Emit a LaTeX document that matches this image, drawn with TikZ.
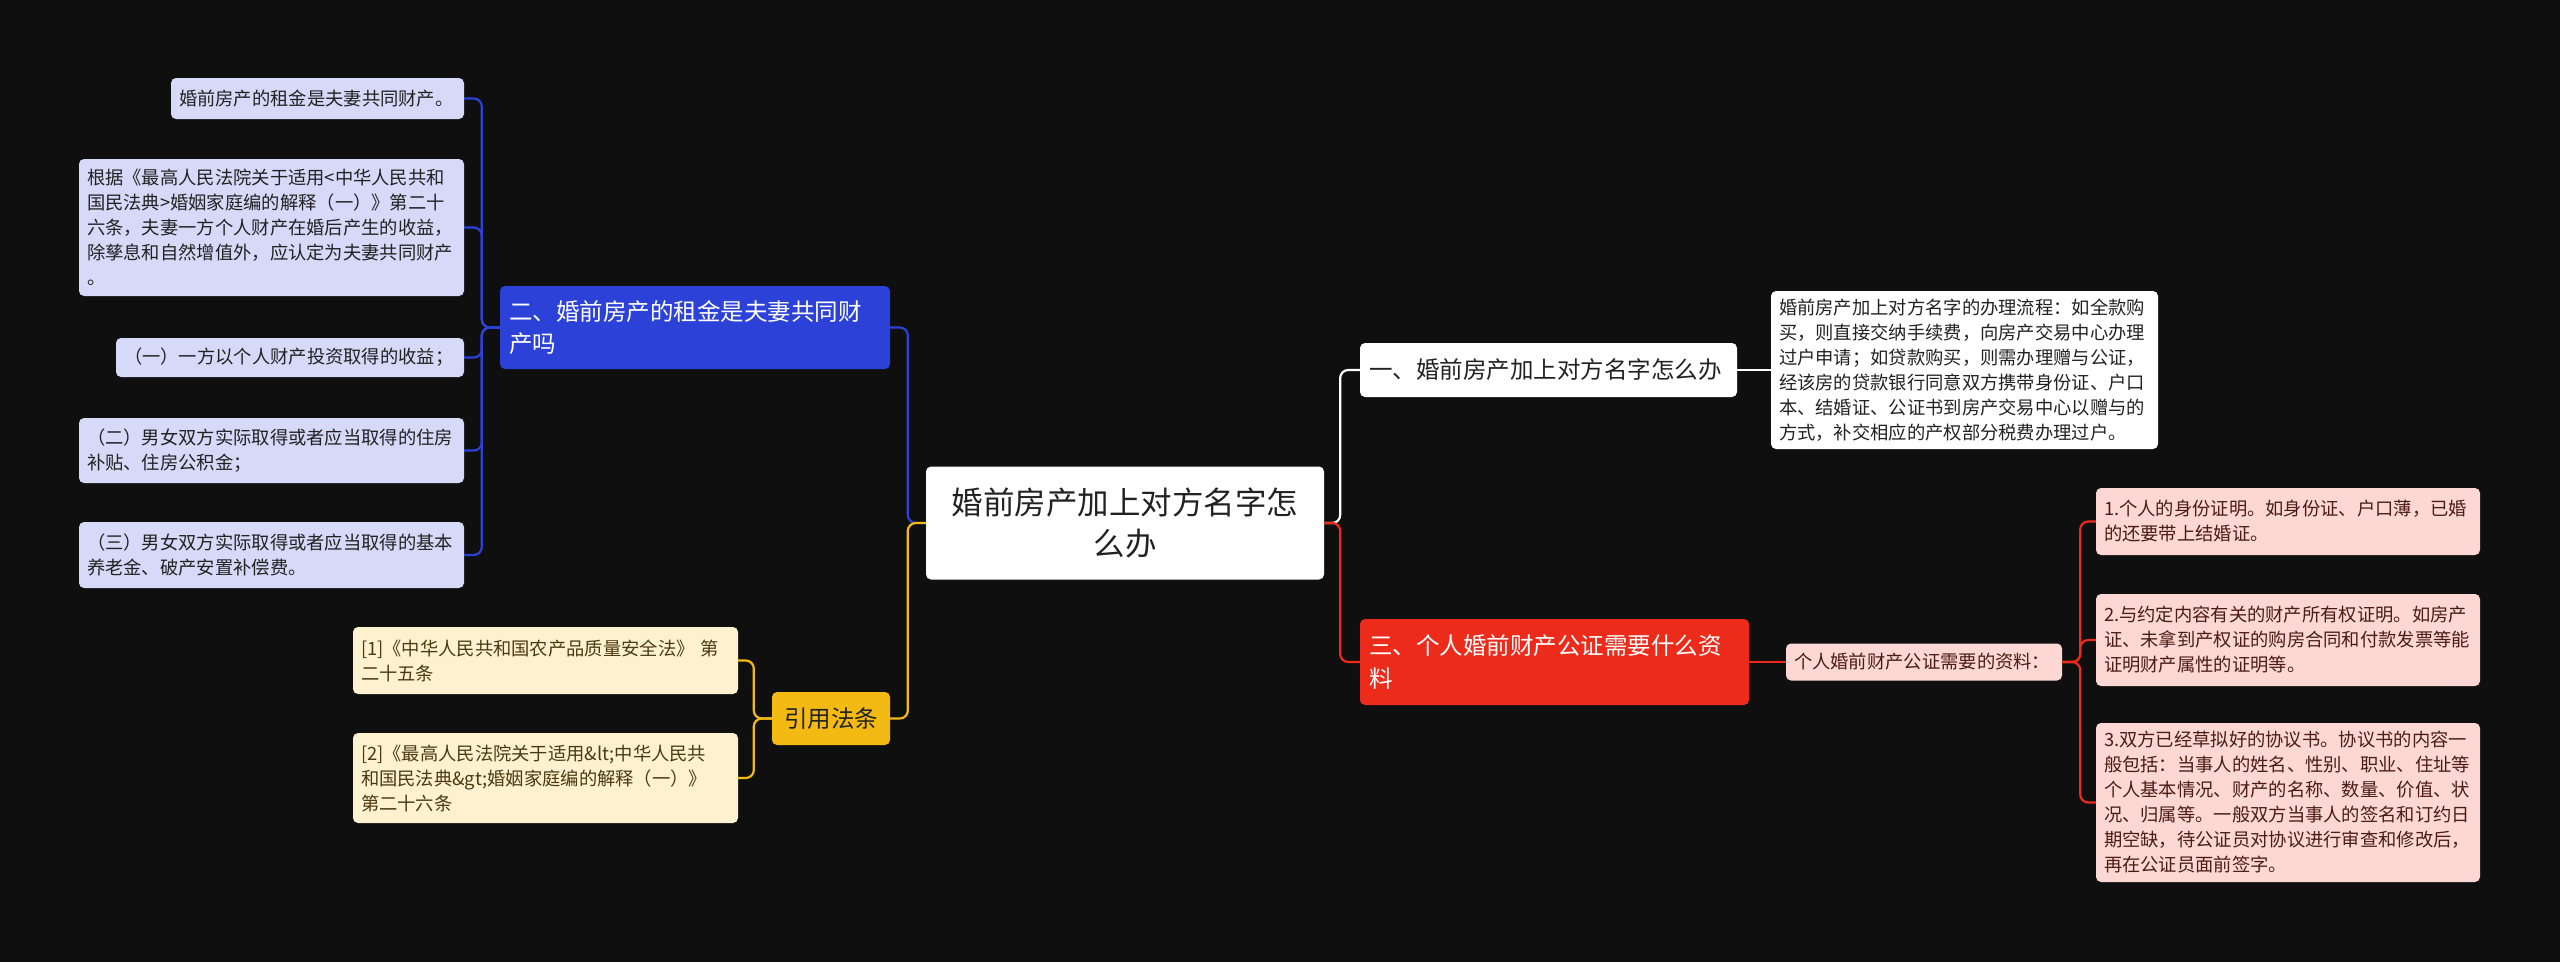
\documentclass[tikz,border=0pt]{standalone}
\usepackage{fontspec}
\setmainfont{Noto Sans CJK SC}
\usetikzlibrary{positioning}
\definecolor{bgc}{HTML}{0F0F0F}
\definecolor{bluec}{HTML}{2C41D8}
\definecolor{bluel}{HTML}{D6D9F7}
\definecolor{redc}{HTML}{EC2B1B}
\definecolor{redl}{HTML}{FDD7D3}
\definecolor{yelc}{HTML}{F2BA13}
\definecolor{yell}{HTML}{FDF1D0}
\definecolor{txtd}{HTML}{222222}
\definecolor{txtr}{HTML}{4A1C16}
\definecolor{txty}{HTML}{4A3A12}
\tikzset{
  box/.style={rounded corners=5pt,inner xsep=8pt,inner ysep=0pt,align=left},
  leaf/.style={box,font=\fontsize{18.3}{25}\selectfont},
  branch/.style={box,inner xsep=9pt,font=\fontsize{23.5}{32.6}\selectfont},
  link/.style={line width=2.2pt,rounded corners=8pt},
}

\begin{document}
\begin{tikzpicture}[x=1pt,y=-1pt]
	\useasboundingbox (0,0) rectangle (2560,962);
	\fill[bgc] (0,0) rectangle (2560,962);

	\node[box,fill=white,text=txtd,align=center,text width=382pt,minimum height=113pt,font=\fontsize{31.5}{41}\selectfont] (root) at (1125,523) {婚前房产加上对方名字怎\\么办};

	\node[branch,fill=white,text=txtd,text width=359pt,minimum height=54pt] (b1) at (1548.5,370) {一、婚前房产加上对方名字怎么办};
	\node[branch,fill=bluec,text=white,text width=372pt,minimum height=83pt] (b2) at (695,327.5) {二、婚前房产的租金是夫妻共同财\\产吗};
	\node[branch,fill=redc,text=white,text width=371pt,minimum height=86pt] (b3) at (1554.5,662) {三、个人婚前财产公证需要什么资\\料};
	\node[branch,fill=yelc,text=txtd,align=center,minimum width=118pt,minimum height=53pt] (b4) at (831,718.5) {引用法条};

	\node[leaf,fill=white,text=txtd,text width=371pt,minimum height=158pt] (w1) at (1964.5,370) {婚前房产加上对方名字的办理流程：如全款购\\买，则直接交纳手续费，向房产交易中心办理\\过户申请；如贷款购买，则需办理赠与公证，\\经该房的贷款银行同意双方携带身份证、户口\\本、结婚证、公证书到房产交易中心以赠与的\\方式，补交相应的产权部分税费办理过户。};

	\node[leaf,fill=redl,text=txtr,text width=260pt,minimum height=37pt] (m) at (1924,662) {个人婚前财产公证需要的资料：};
	\node[leaf,fill=redl,text=txtr,text width=368pt,minimum height=67pt] (r1) at (2288,521.5) {1.个人的身份证明。如身份证、户口薄，已婚\\的还要带上结婚证。};
	\node[leaf,fill=redl,text=txtr,text width=368pt,minimum height=92pt] (r2) at (2288,640) {2.与约定内容有关的财产所有权证明。如房产\\证、未拿到产权证的购房合同和付款发票等能\\证明财产属性的证明等。};
	\node[leaf,fill=redl,text=txtr,text width=368pt,minimum height=159pt] (r3) at (2288,802.5) {3.双方已经草拟好的协议书。协议书的内容一\\般包括：当事人的姓名、性别、职业、住址等\\个人基本情况、财产的名称、数量、价值、状\\况、归属等。一般双方当事人的签名和订约日\\期空缺，待公证员对协议进行审查和修改后，\\再在公证员面前签字。};

	\node[leaf,fill=bluel,text=txtd,text width=277pt,minimum height=41pt] (la) at (317.5,98.5) {婚前房产的租金是夫妻共同财产。};
	\node[leaf,fill=bluel,text=txtd,text width=369pt,minimum height=137pt] (lb) at (271.5,227.5) {根据《最高人民法院关于适用<中华人民共和\\国民法典>婚姻家庭编的解释（一）》第二十\\六条，夫妻一方个人财产在婚后产生的收益，\\除孳息和自然增值外，应认定为夫妻共同财产\\。};
	\node[leaf,fill=bluel,text=txtd,text width=332pt,minimum height=39pt] (lc) at (290,357.5) {（一）一方以个人财产投资取得的收益；};
	\node[leaf,fill=bluel,text=txtd,text width=369pt,minimum height=65pt] (ld) at (271.5,450.5) {（二）男女双方实际取得或者应当取得的住房\\补贴、住房公积金；};
	\node[leaf,fill=bluel,text=txtd,text width=369pt,minimum height=66pt] (le) at (271.5,555) {（三）男女双方实际取得或者应当取得的基本\\养老金、破产安置补偿费。};

	\node[leaf,fill=yell,text=txty,text width=369pt,minimum height=67pt] (y1) at (545.5,660.5) {[1]《中华人民共和国农产品质量安全法》 第\\二十五条};
	\node[leaf,fill=yell,text=txty,text width=369pt,minimum height=90pt] (y2) at (545.5,778) {[2]《最高人民法院关于适用\&lt;中华人民共\\和国民法典\&gt;婚姻家庭编的解释（一）》\\第二十六条};

	\draw[link,draw=white] (root.east) -- ++(16,0) |- (b1.west);
	\draw[link,draw=redc] (root.east) -- ++(16,0) |- (b3.west);
	\draw[link,draw=bluec] (root.west) -- ++(-18,0) |- (b2.east);
	\draw[link,draw=yelc] (root.west) -- ++(-18,0) |- (b4.east);
	\draw[link,draw=white] (b1) -- (w1);
	\draw[link,draw=redc] (b3) -- (m);
	\foreach \n in {r1,r2,r3}
		\draw[link,draw=redc] (m.east) -- ++(18,0) |- (\n.west);
	\foreach \n in {la,lb,lc,ld,le}
		\draw[link,draw=bluec] (b2.west) -- ++(-18,0) |- (\n.east);
	\foreach \n in {y1,y2}
		\draw[link,draw=yelc] (b4.west) -- ++(-18,0) |- (\n.east);
\end{tikzpicture}
\end{document}
